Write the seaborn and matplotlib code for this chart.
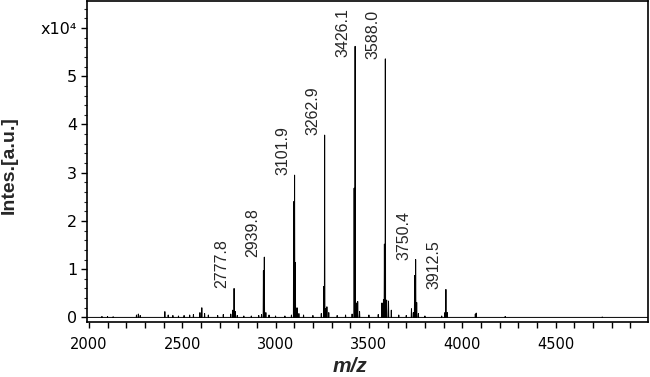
import numpy as np
import pandas as pd
import matplotlib
matplotlib.use("Agg")
import matplotlib.pyplot as plt
from matplotlib import ticker
import seaborn as sns

# ---- datos del espectro (m/z, intensidad en cuentas) ----
mz = [2070, 2100, 2130, 2255, 2265, 2275, 2407, 2425, 2450, 2480, 2510, 2540,
      2560, 2595, 2605, 2620, 2640, 2690, 2720, 2760, 2770, 2777.8, 2785, 2795,
      2830, 2870, 2910, 2925, 2935, 2939.8, 2948, 2965, 3000, 3050, 3085, 3097,
      3101.9, 3106, 3115, 3125, 3150, 3200, 3245, 3258, 3262.9, 3268, 3275,
      3285, 3330, 3375, 3410, 3421, 3426.1, 3432, 3440, 3450, 3500, 3550, 3570,
      3578, 3583, 3588.0, 3595, 3605, 3620, 3660, 3700, 3728, 3738, 3745,
      3750.4, 3756, 3765, 3800, 3890, 3907, 3912.5, 3920, 4070, 4075, 4230, 4750]
intens = [200, 200, 150, 500, 700, 400, 1200, 500, 400, 300, 400, 500,
          600, 1000, 2000, 800, 500, 400, 600, 700, 1500, 6000, 1200, 400,
          300, 300, 400, 600, 9700, 12500, 1000, 500, 300, 300, 500, 24000,
          29500, 11400, 2000, 800, 500, 400, 800, 6400, 37800, 1800, 2200,
          1000, 400, 500, 700, 26800, 56200, 3000, 3300, 1200, 500, 600, 3000,
          3700, 15200, 53600, 3600, 3400, 1500, 500, 400, 1800, 1000, 8700,
          12000, 3100, 800, 300, 300, 1000, 5800, 1000, 700, 900, 200, 100]

# picos etiquetados
label_mz = [2777.8, 2939.8, 3101.9, 3262.9, 3426.1, 3588.0, 3750.4, 3912.5]
label_int = [6000, 12500, 29500, 37800, 56200, 53600, 12000, 5800]
label_txt = ["2777.8", "2939.8", "3101.9", "3262.9", "3426.1", "3588.0", "3750.4", "3912.5"]

# armo el perfil: cada pico como un triangulito angosto sobre la linea de base
hw = 1.4
xs, ys = [1990], [0]
for m, h in sorted(zip(mz, intens)):
    xs += [m - hw, m, m + hw]
    ys += [0, h, 0]
xs.append(5000)
ys.append(0)
espectro = pd.DataFrame({"mz": xs, "int": np.array(ys) / 1e4})

sns.set_style("ticks")
plt.rcParams['font.family'] = ['DejaVu Sans']

fig = plt.figure(figsize=(6.5, 3.77), dpi=100)
ax = fig.add_axes([87 / 650, 55 / 377, 561 / 650, 321 / 377])

sns.lineplot(data=espectro, x="mz", y="int", sort=False, estimator=None,
             color="black", linewidth=0.7, ax=ax)

ax.set_xlim(1990, 4995)
ax.set_ylim(-0.095, 6.56)

ax.xaxis.set_major_locator(ticker.MultipleLocator(500))
ax.xaxis.set_minor_locator(ticker.MultipleLocator(100))
ax.set_yticks(range(7))
ax.set_yticklabels(["0", "1", "2", "3", "4", "5", "x10⁴"])
ax.yaxis.set_minor_locator(ticker.MultipleLocator(0.2))

ax.tick_params(axis="x", which="both", direction="out", length=4, width=1,
               labelsize=10.5, pad=7, colors="black")
ax.tick_params(axis="y", which="major", direction="out", length=4, width=1,
               labelsize=11.5, pad=3, colors="black")
ax.tick_params(axis="y", which="minor", direction="out", length=2.5, width=0.8)
for s in ax.spines.values():
    s.set_color("black")
    s.set_linewidth(1.2)

ax.set_xlabel("m/z", fontsize=15, fontweight="bold", style="italic",
              family=["Liberation Sans", "DejaVu Sans"])
ax.xaxis.set_label_coords(0.469, -0.11)
ax.set_ylabel("Intes.[a.u.]", fontsize=14, fontweight="bold",
              family=["Liberation Sans", "DejaVu Sans"])
ax.yaxis.set_label_coords(-0.123, 0.49)

# etiquetas de los picos, rotadas a la izquierda de cada pico
nudge = {"3426.1": -7.5}
for m, h, t in zip(label_mz, label_int, label_txt):
    ax.annotate(t, xy=(m, h / 1e4), xytext=(-8.6, nudge.get(t, 0)),
                textcoords="offset points", rotation=90, ha="center", va="bottom",
                fontsize=11.5, family=["Liberation Sans", "DejaVu Sans"])

fig.savefig("out.png", dpi=100, facecolor="white")
